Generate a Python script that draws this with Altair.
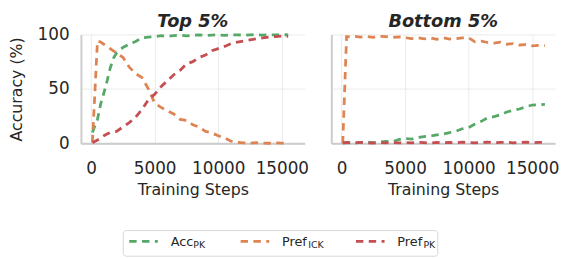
import altair as alt
import pandas as pd

series_names = ["Acc_PK", "Pref_ICK", "Pref_PK"]
colors = ["#55a868", "#dd8452", "#c44e52"]
panel_titles = ["Top 5%", "Bottom 5%"]

# ---- Top 5% ----
steps_top = [100, 500, 750, 1000, 1250, 1500, 1750, 2000, 2500, 3000, 3500, 4000, 4500,
             5000, 5500, 6000, 6500, 7000, 7500, 8000, 8500, 9000, 9500, 10000, 10500,
             11000, 11500, 12000, 12500, 13000, 13500, 14000, 14500, 15000, 15500]
acc_top = [10, 22, 36, 46, 57, 69, 78, 83, 88, 91, 93.5, 97, 97.5,
           98, 98.8, 98.2, 99, 99.3, 98.6, 99.2, 99.5, 99.1, 99.4, 99.6, 99.2,
           99.5, 99.7, 99.3, 99.6, 99.8, 99.4, 99.7, 99.5, 99.8, 99.6]
ick_top = [1, 94, 93, 91, 89, 87, 85, 83, 79, 70, 64, 60.5, 50,
           37, 33, 30, 27, 22, 21, 17, 15, 11, 9.5, 7, 5,
           2, 1, 0.5, 0.2, 0.6, 0.3, 0.1, 0.4, 0.2, 0.1]
pk_top = [0.5, 3, 5, 7, 8.5, 10, 10.5, 11, 15, 19, 24, 31, 40,
          45, 52, 57.5, 63, 67, 73, 75, 79, 81, 85, 87, 89,
          91.5, 93, 94, 95, 96, 96.8, 97.5, 98, 98.6, 98.2]

# ---- Bottom 5% ----
steps_bot = [100, 400, 1000, 1500, 2000, 2500, 3000, 3500, 4000, 4500, 5000, 5500,
             6000, 6500, 7000, 7500, 8000, 8500, 9000, 9500, 10000, 10500, 11000,
             11500, 12000, 12500, 13000, 13500, 14000, 14500, 15000, 15500, 16000]
acc_bot = [0.2, 0.5, 0.3, 0.8, 1.2, 0.7, 1.3, 1.8, 1.4, 3.5, 4.6, 3.8,
           5.5, 6.2, 6.8, 7.8, 8.6, 9.8, 11.2, 13.4, 14.5, 17.8, 20.2,
           23.5, 24.5, 26.2, 28.8, 30.2, 31.5, 33.6, 35.2, 35.4, 35.8]
ick_bot = [0, 98, 98.2, 97.6, 98.1, 97.4, 98.3, 98, 97.2, 97.8, 97.1, 96.2,
           97, 96, 96.8, 95.5, 96.9, 95.8, 96.2, 96.8, 96.9, 93.2, 93.8,
           92.6, 92.1, 92.9, 91, 91.6, 90.3, 90.6, 89.6, 89.9, 89.8]
pk_bot = [0.5, 0.8, 0.4, 0.9, 0.6, 0.3, 0.8, 0.5, 0.9, 0.4, 0.7, 0.5,
          0.9, 0.6, 0.4, 0.8, 0.5, 0.9, 0.6, 1.1, 0.7, 0.5, 0.9,
          1.2, 0.6, 0.8, 1.0, 0.5, 0.9, 1.1, 0.7, 0.9, 1.0]

legend_main = ["Acc", "Pref", "Pref"]
legend_sub = ["PK", "ICK", "PK"]

FONT = "DejaVu Sans"
PANEL_W = 227
PANEL_H = 110.5
DASH = [7.5, 5.5]
LW = 2.8


def legend_layers():
    # legend drawn relative to the left panel's plot origin
    box_x0, box_x1, box_y0, box_h = 43, 362, 199, 26
    entry_x = [49, 162, 279]
    main_w = [23, 26.5, 26.5]
    out = [
        alt.Chart(pd.DataFrame({"a": [0]})).mark_rect(
            fill="white", stroke="#d6d6d6", strokeWidth=1, cornerRadius=3, clip=False
        ).encode(x=alt.value(box_x0), x2=alt.value(box_x1),
                 y=alt.value(box_y0), y2=alt.value(box_y0 + box_h))
    ]
    for i in range(3):
        x0 = entry_x[i]
        out.append(
            alt.Chart(pd.DataFrame({"a": [0]})).mark_rule(
                color=colors[i], strokeWidth=LW, strokeDash=DASH, clip=False
            ).encode(x=alt.value(x0), x2=alt.value(x0 + 29), y=alt.value(box_y0 + 11))
        )
        tx = x0 + 42
        out.append(
            alt.Chart(pd.DataFrame({"t": [legend_main[i]]})).mark_text(
                font=FONT, fontSize=13, align="left", baseline="alphabetic",
                color="#262626", clip=False
            ).encode(text="t:N", x=alt.value(tx), y=alt.value(box_y0 + 16))
        )
        out.append(
            alt.Chart(pd.DataFrame({"t": [legend_sub[i]]})).mark_text(
                font=FONT, fontSize=9.5, align="left", baseline="alphabetic",
                color="#262626", clip=False
            ).encode(text="t:N", x=alt.value(tx + main_w[i]), y=alt.value(box_y0 + 17.7))
        )
    return out


def panel(steps, series, title, show_y, extra=()):
    layers = []
    for vals, col in zip(series, colors):
        df = pd.DataFrame({"step": steps, "value": vals})
        layers.append(
            alt.Chart(df).mark_line(color=col, strokeWidth=LW, strokeDash=DASH, clip=False).encode(
                x=alt.X("step:Q",
                        scale=alt.Scale(domain=[-800, 16800], nice=False, zero=False),
                        axis=alt.Axis(values=[0, 5000, 10000, 15000], format="d",
                                      title="Training Steps")),
                y=alt.Y("value:Q",
                        scale=alt.Scale(domain=[0, 100], nice=False),
                        axis=alt.Axis(values=[0, 50, 100], labels=show_y,
                                      title="Accuracy (%)" if show_y else None)),
            )
        )
    layers.append(
        alt.Chart(pd.DataFrame({"t": [title]})).mark_text(
            font=FONT, fontSize=18, fontWeight="bold", fontStyle="italic",
            color="#262626", align="center", baseline="alphabetic", clip=False
        ).encode(text="t:N", x=alt.value(PANEL_W / 2), y=alt.value(-8))
    )
    layers.extend(extra)
    return alt.layer(*layers).properties(width=PANEL_W, height=PANEL_H)


left = panel(steps_top, [acc_top, ick_top, pk_top], panel_titles[0], True, legend_layers())
right = panel(steps_bot, [acc_bot, ick_bot, pk_bot], panel_titles[1], False)

chart = alt.hconcat(left, right, spacing=27, bounds="flush").properties(
    padding={"top": 3, "left": 0, "right": 0, "bottom": 0}
).configure_view(stroke=None).configure_axis(
    labelFont=FONT, titleFont=FONT, labelFontSize=17, titleFontSize=16,
    labelColor="#262626", titleColor="#262626", titleFontWeight="normal",
    gridColor="#ebebeb", gridWidth=1, domainColor="#cccccc", domainWidth=2,
    ticks=False, tickSize=0,
).configure_axisX(labelPadding=17.5, titlePadding=5.5).configure_axisY(
    labelPadding=12, titlePadding=13
)

chart.save("out.html", embed_options={"renderer": "svg", "actions": False})
